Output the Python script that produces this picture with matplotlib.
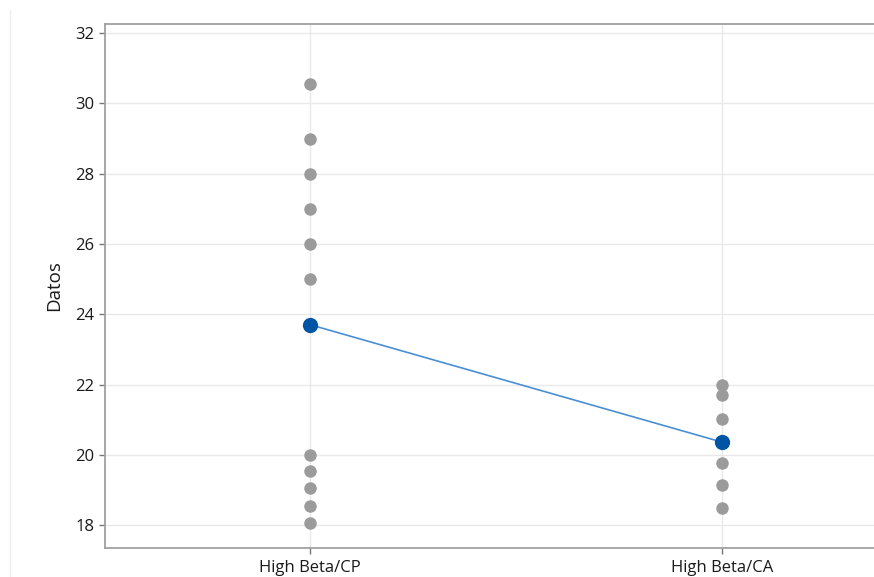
import numpy as np
import matplotlib
matplotlib.use("Agg")
import matplotlib.pyplot as plt
from matplotlib.lines import Line2D

categories = ["High Beta/CP", "High Beta/CA"]
cp_values = [30.55, 29.0, 28.0, 27.0, 26.0, 25.0, 20.0, 19.55, 19.05, 18.55, 18.05]
ca_values = [22.0, 21.7, 21.03, 19.78, 19.15, 18.5]
series = [cp_values, ca_values]
y_ticks = [18, 20, 22, 24, 26, 28, 30, 32]
y_label = "Datos"

plt.rcParams['font.family'] = ['Open Sans', 'DejaVu Sans']

fig = plt.figure(figsize=(8.74, 5.77), dpi=100)
ax = fig.add_axes([105/874, 1-548/577, 1-105/874 + 0.002, (548-24)/577])

x_pos = np.arange(len(categories))
for i, vals in enumerate(series):
    ax.plot([x_pos[i]]*len(vals), vals, 'o', color='#9b9b9b', ms=9, mec='none', zorder=3)

means = [np.mean(v) for v in series]
ax.plot(x_pos, means, '-', color='#4a8fd6', lw=1.2, zorder=4)
ax.plot(x_pos, means, 'o', color='#0054a6', ms=11, mec='none', zorder=5)

ax.set_xlim(-0.497, 1.372)
ax.set_ylim(17.35, 32.26)
ax.set_xticks(x_pos)
ax.set_xticklabels(categories)
ax.set_yticks(y_ticks)
ax.set_yticklabels([str(t) for t in y_ticks])
ax.grid(True, color='#e9e9e9', lw=1)
ax.set_axisbelow(True)
for s in ['left', 'bottom', 'top']:
    ax.spines[s].set_color('#a0a0a0')
    ax.spines[s].set_linewidth(1.3)
ax.spines['right'].set_visible(False)
ax.tick_params(axis='both', colors='#777777', length=4, width=1, labelcolor='#1a1a1a', labelsize=12)
ax.tick_params(axis='x', pad=5)
ax.set_ylabel(y_label, fontsize=13.5, color='#1a1a1a', labelpad=9)

fig.add_artist(Line2D([10/874, 10/874], [0, 1-10/577], transform=fig.transFigure, color='#eeeeee', lw=1))

fig.savefig("out.png", dpi=100)
